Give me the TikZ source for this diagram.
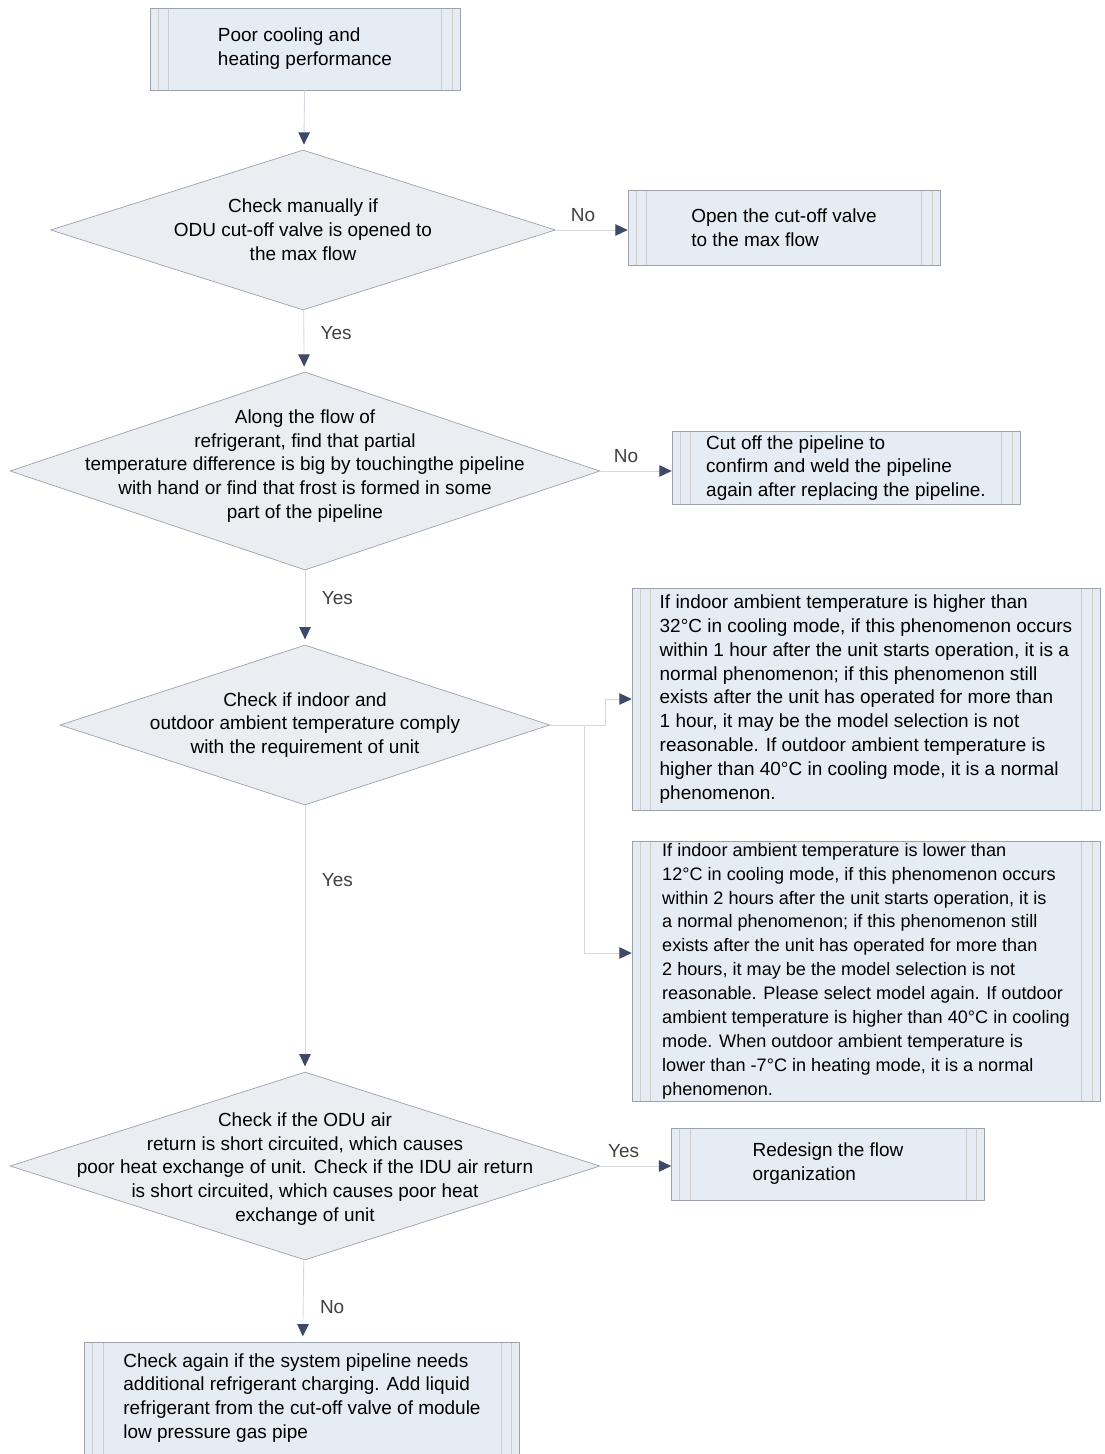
\documentclass[tikz,border=0pt]{standalone}
\usepackage{fontspec}
\setmainfont{Liberation Sans}
\usepackage{xcolor}
\usetikzlibrary{arrows.meta,positioning,calc,shapes.geometric}
\definecolor{boxfill}{RGB}{230,236,243}
\definecolor{dfill}{RGB}{234,238,243}
\definecolor{edge}{RGB}{158,162,170}
\definecolor{wire}{RGB}{212,217,224}
\definecolor{tipc}{RGB}{62,72,104}
\newcommand{\txt}{\fontsize{10.8}{13.6}\selectfont}

\begin{document}
\begin{tikzpicture}[x=0.02cm, y=-0.02cm,
  proc/.style={draw=edge, fill=boxfill, align=left, font=\txt, inner sep=0pt,
               path picture={
                 \foreach \d in {4.5pt,10.5pt}{
                   \draw[gray!40] ([xshift=\d]path picture bounding box.south west)
                     -- ([xshift=\d]path picture bounding box.north west);
                   \draw[gray!40] ([xshift=-\d]path picture bounding box.south east)
                     -- ([xshift=-\d]path picture bounding box.north east);
                 }}},
  decision/.style={draw=edge, fill=dfill, shape=diamond, inner sep=0pt},
  dtext/.style={align=center, font=\txt, inner sep=0pt},
  flow/.style={draw=wire, line width=0.5pt, -{Triangle[length=7pt,width=6.5pt,color=tipc]}},
  lbl/.style={font=\txt, text=black!75},
]
\useasboundingbox (0,0) rectangle (1105,1454);

% boxes
\node[proc, minimum width=6.2cm, minimum height=1.64cm] (start) at (305,49)
  {Poor cooling and\\heating performance};
\node[proc, minimum width=6.24cm, minimum height=1.5cm] (open) at (784,228)
  {Open the cut-off valve\\to the max flow};
\node[proc, minimum width=6.96cm, minimum height=1.46cm] (weld) at (846,468)
  {Cut off the pipeline to\\confirm and weld the pipeline\\again after replacing the pipeline.};
\node[proc, minimum width=9.36cm, minimum height=4.44cm] (hot) at (866,699)
  {If indoor ambient temperature is higher than\\
   32°C in cooling mode, if this phenomenon occurs\\
   within 1 hour after the unit starts operation, it is a\\
   normal phenomenon; if this phenomenon still\\
   exists after the unit has operated for more than\\
   1 hour, it may be the model selection is not\\
   reasonable. If outdoor ambient temperature is\\
   higher than 40°C in cooling mode, it is a normal\\
   phenomenon.};
\node[proc, minimum width=9.36cm, minimum height=5.2cm,
      font=\fontsize{10.3}{13.6}\selectfont] (cold) at (866,971)
  {If indoor ambient temperature is lower than\\
   12°C in cooling mode, if this phenomenon occurs\\
   within 2 hours after the unit starts operation, it is\\
   a normal phenomenon; if this phenomenon still\\
   exists after the unit has operated for more than\\
   2 hours, it may be the model selection is not\\
   reasonable. Please select model again. If outdoor\\
   ambient temperature is higher than 40°C in cooling\\
   mode. When outdoor ambient temperature is\\
   lower than -7°C in heating mode, it is a normal\\
   phenomenon.};
\node[proc, minimum width=6.26cm, minimum height=1.44cm] (redesign) at (828,1164)
  {Redesign the flow\\organization};
\node[proc, minimum width=8.7cm, minimum height=2.24cm] (charge) at (302,1398)
  {Check again if the system pipeline needs\\
   additional refrigerant charging. Add liquid\\
   refrigerant from the cut-off valve of module\\
   low pressure gas pipe};

% decisions
\node[decision, minimum width=10.1cm, minimum height=3.2cm] (valve) at (303,230) {};
\node[dtext] (valvet) at (valve.center)
  {Check manually if\\ODU cut-off valve is opened to\\the max flow};
\node[decision, minimum width=11.8cm, minimum height=3.96cm] (frost) at (305,471) {};
\node[dtext] (frostt) at (305,466)
  {Along the flow of\\refrigerant, find that partial\\
   temperature difference is big by touchingthe pipeline\\
   with hand or find that frost is formed in some\\part of the pipeline};
\node[decision, minimum width=9.8cm, minimum height=3.2cm] (ambient) at (305,725) {};
\node[dtext] (ambientt) at (ambient.center)
  {Check if indoor and\\outdoor ambient temperature comply\\with the requirement of unit};
\node[decision, minimum width=11.8cm, minimum height=3.76cm] (airret) at (305,1166) {};
\node[dtext] (airrett) at (305,1169)
  {Check if the ODU air\\return is short circuited, which causes\\
   poor heat exchange of unit. Check if the IDU air return\\
   is short circuited, which causes poor heat\\exchange of unit};

% connectors
\draw[flow, shorten >=3pt] (start) -- (valve);
\draw[flow] (valve.east) -- node[lbl, above=1pt, pos=.38]{No} (open.west |- valve.east);
\draw[flow, shorten >=3pt] (valve) -- node[lbl, right=6pt, pos=.37]{Yes} (frost);
\draw[flow] (frost.east) -- node[lbl, above=1pt, pos=.36]{No} (weld.west |- frost.east);
\draw[flow, shorten >=3pt] (frost) -- node[lbl, right=6pt, pos=.37]{Yes} (ambient);
\coordinate (split) at (584,725);
\draw[flow] (ambient.east) -- ++(55,0) |- (hot.west);
\draw[flow] (split) |- ($(cold.west)+(0,-18)$);
\draw[flow, shorten >=3pt] (ambient) -- node[lbl, right=6pt, pos=.28]{Yes} (airret);
\draw[flow] (airret.east) -- node[lbl, above=1pt, pos=.33]{Yes} (redesign.west |- airret.east);
\draw[flow, shorten >=3pt] (airret) -- node[lbl, right=6pt, pos=.58]{No} (charge);
\end{tikzpicture}
\end{document}
